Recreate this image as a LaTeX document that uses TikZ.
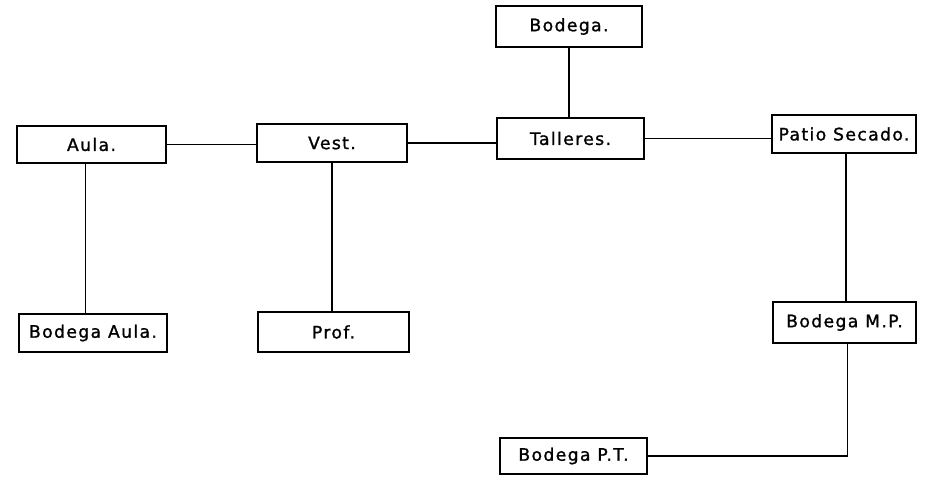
\documentclass[tikz,border=0pt]{standalone}
\usepackage{fontspec}
\setmainfont{DejaVu Sans}[LetterSpace=8, FakeBold=1.2]
\begin{document}
\begin{tikzpicture}[x=1pt,y=-1pt,
  room/.style={draw, line width=1.4pt, rectangle, inner sep=0pt, align=center,
    font=\fontsize{17.2}{19}\selectfont},
  link/.style={line width=1.2pt}]
\useasboundingbox (0,0) rectangle (930,481);
\node[room, minimum width=146pt, minimum height=41pt] (bod)   at (569,26.5)  {Bodega.};
\node[room, minimum width=149pt, minimum height=37pt] (aula)  at (91.5,144.5) {Aula.};
\node[room, minimum width=150pt, minimum height=38pt] (vest)  at (332,143)   {Vest.};
\node[room, minimum width=147pt, minimum height=41pt] (tall)  at (570.5,138.5) {Talleres.};
\node[room, minimum width=144pt, minimum height=38pt] (patio) at (844,134)   {Patio Secado.};
\node[room, minimum width=148pt, minimum height=38pt] (baula) at (93,333)    {Bodega Aula.};
\node[room, minimum width=151pt, minimum height=40pt] (prof)  at (333.5,332) {Prof.};
\node[room, minimum width=143pt, minimum height=41pt] (bmp)   at (844.5,322.5) {Bodega M.P.};
\node[room, minimum width=147pt, minimum height=36pt] (bpt)   at (573.5,456) {Bodega P.T.};
\draw[link] (aula.east) -- (aula.east -| vest.west);
\draw[link] (vest.east) -- (vest.east -| tall.west);
\draw[link] (tall.east) -- (tall.east -| patio.west);
\draw[link] (bod.south) -- (bod.south |- tall.north);
\draw[link] ([xshift=-6pt]aula.south) -- ([xshift=-6pt]aula.south |- baula.north);
\draw[link] (vest.south) -- (vest.south |- prof.north);
\draw[link] ([xshift=2pt]patio.south) -- ([xshift=2pt]patio.south |- bmp.north);
\draw[link] ([xshift=3pt]bmp.south) |- (bpt.east);
\end{tikzpicture}
\end{document}
